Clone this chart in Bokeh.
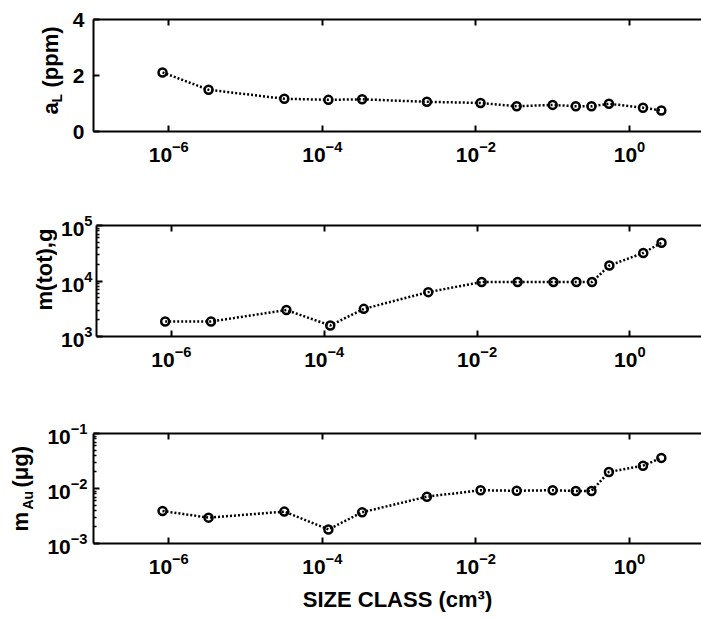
import numpy as np
from bokeh.plotting import figure
from bokeh.layouts import column, row
from bokeh.models import (Range1d, FixedTicker, LogAxis, Label,
                          CustomJSTickFormatter)
from bokeh.embed import file_html
from bokeh.resources import INLINE

# ---- data ----
size_class = [8.3e-7, 3.3e-6, 3.2e-5, 1.2e-4, 3.3e-4, 2.3e-3, 1.15e-2,
              3.4e-2, 0.10, 0.20, 0.32, 0.54, 1.5, 2.6]
a_L = [2.11, 1.49, 1.17, 1.13, 1.15, 1.06, 1.02, 0.90, 0.95, 0.90, 0.90,
       0.99, 0.85, 0.75]
m_tot = [1860, 1860, 3000, 1580, 3150, 6300, 9600, 9600, 9600, 9600, 9600,
         19000, 32000, 49000]
m_au = [3.9e-3, 2.95e-3, 3.8e-3, 1.8e-3, 3.7e-3, 7.1e-3, 9.3e-3, 9.1e-3,
        9.3e-3, 9.0e-3, 9.0e-3, 0.020, 0.026, 0.036]
x_ticks = [1e-6, 1e-4, 1e-2, 1e0]
aL_ticks = [0, 2, 4]
mtot_ticks = [1e3, 1e4, 1e5]
mau_ticks = [1e-3, 1e-2, 1e-1]
x_title = "SIZE CLASS (cm³)"

FONT = "Liberation Sans"
X_RANGE = (10 ** -6.98, 10 ** 0.938)
FRAME_LEFT = 93
WIN_W = 701


def minor_for(ticks):
    out = []
    for t in ticks[:-1]:
        out += [k * t for k in range(2, 10)]
    return out


def make(split, height, top, bottom, y_type, y_rng, y_ticks, y_minor, standoff):
    p = figure(width=WIN_W - split, height=height, x_axis_type="log",
               y_axis_type=y_type,
               x_range=Range1d(*X_RANGE), y_range=Range1d(*y_rng),
               output_backend="svg", toolbar_location=None,
               min_border_left=FRAME_LEFT - split, min_border_right=0,
               min_border_top=top, min_border_bottom=bottom)
    p.outline_line_color = None
    p.grid.visible = False
    p.xaxis.ticker = FixedTicker(ticks=x_ticks)
    p.yaxis.ticker = FixedTicker(ticks=y_ticks, minor_ticks=y_minor)
    for ax in p.xaxis + p.yaxis:
        ax.axis_line_width = 2
        ax.major_tick_in = 6
        ax.major_tick_out = 0
        ax.major_tick_line_width = 2
        ax.minor_tick_in = 3
        ax.minor_tick_out = 0
        ax.minor_tick_line_width = 1.5
        ax.major_label_text_font = FONT
        ax.major_label_text_font_style = "bold"
        ax.major_label_text_font_size = "21px"
        ax.major_label_text_color = "black"
    p.xaxis.major_label_standoff = 9
    p.yaxis.major_label_standoff = standoff
    top_ax = LogAxis(ticker=FixedTicker(ticks=x_ticks),
                     formatter=CustomJSTickFormatter(code="return ''"),
                     major_label_text_font_size="1px", major_label_standoff=0,
                     major_tick_in=6, major_tick_out=0, major_tick_line_width=2,
                     axis_line_width=2)
    p.add_layout(top_ax, "above")
    return p


def label_fig(split, height, top, bottom):
    # its frame lines up with the neighbouring plot's frame
    f = figure(width=split, height=height, output_backend="svg",
               toolbar_location=None, x_axis_location=None, title=None,
               y_axis_location=None,
               min_border_left=0, min_border_right=0,
               min_border_top=top, min_border_bottom=bottom,
               x_range=Range1d(0, split),
               y_range=Range1d(0, height - top - bottom))
    f.outline_line_color = None
    f.grid.visible = False
    return f


def lab(f, x, y, text, size):
    f.add_layout(Label(x=x, y=y, text=text,
                       angle=np.pi / 2, text_font=FONT, text_font_style="bold",
                       text_font_size=size, text_baseline="alphabetic",
                       text_align="left", text_color="black"))


def draw(p, y):
    p.line(size_class, y, line_color="black", line_width=2.5, line_dash="2 2")
    p.scatter(size_class, y, marker="circle", size=8, line_color="black",
              line_width=2.5, fill_color=None)


# panel 1
S1, H1, T1, B1 = 66, 200, 19, 69
p1 = make(S1, H1, T1, B1, "linear", (0, 4), aL_ticks, [], 9)
draw(p1, a_L)
l1 = label_fig(S1, H1, T1, B1)
lab(l1, 50, 17, "a", "22px")
lab(l1, 56, 29, "L", "14px")
lab(l1, 50, 44, "(ppm)", "22px")

# panel 2
S2, H2, T2, B2 = 57, 205, 25, 69
p2 = make(S2, H2, T2, B2, "log", (1e3, 1e5), mtot_ticks, minor_for(mtot_ticks), 4)
draw(p2, m_tot)
l2 = label_fig(S2, H2, T2, B2)
lab(l2, 44, 26, "m(tot),g", "22px")

# panel 3
S3, H3, T3, B3 = 40, 214, 28, 76
p3 = make(S3, H3, T3, B3, "log", (1e-3, 1e-1), mau_ticks, minor_for(mau_ticks), 6)
draw(p3, m_au)
l3 = label_fig(S3, H3, T3, B3)
lab(l3, 20, 12, "m", "22px")
lab(l3, 27, 34, "Au", "14px")
lab(l3, 20, 56, "(μg)", "22px")
bx = p3.below[0]
bx.axis_label = x_title
bx.axis_label_text_font = FONT
bx.axis_label_text_font_style = "bold"
bx.axis_label_text_font_size = "22px"
bx.axis_label_text_color = "black"
bx.axis_label_standoff = 10

layout = column(row(l1, p1, spacing=0), row(l2, p2, spacing=0),
                row(l3, p3, spacing=0), spacing=0)
open("out.html", "w").write(file_html(layout, INLINE))
